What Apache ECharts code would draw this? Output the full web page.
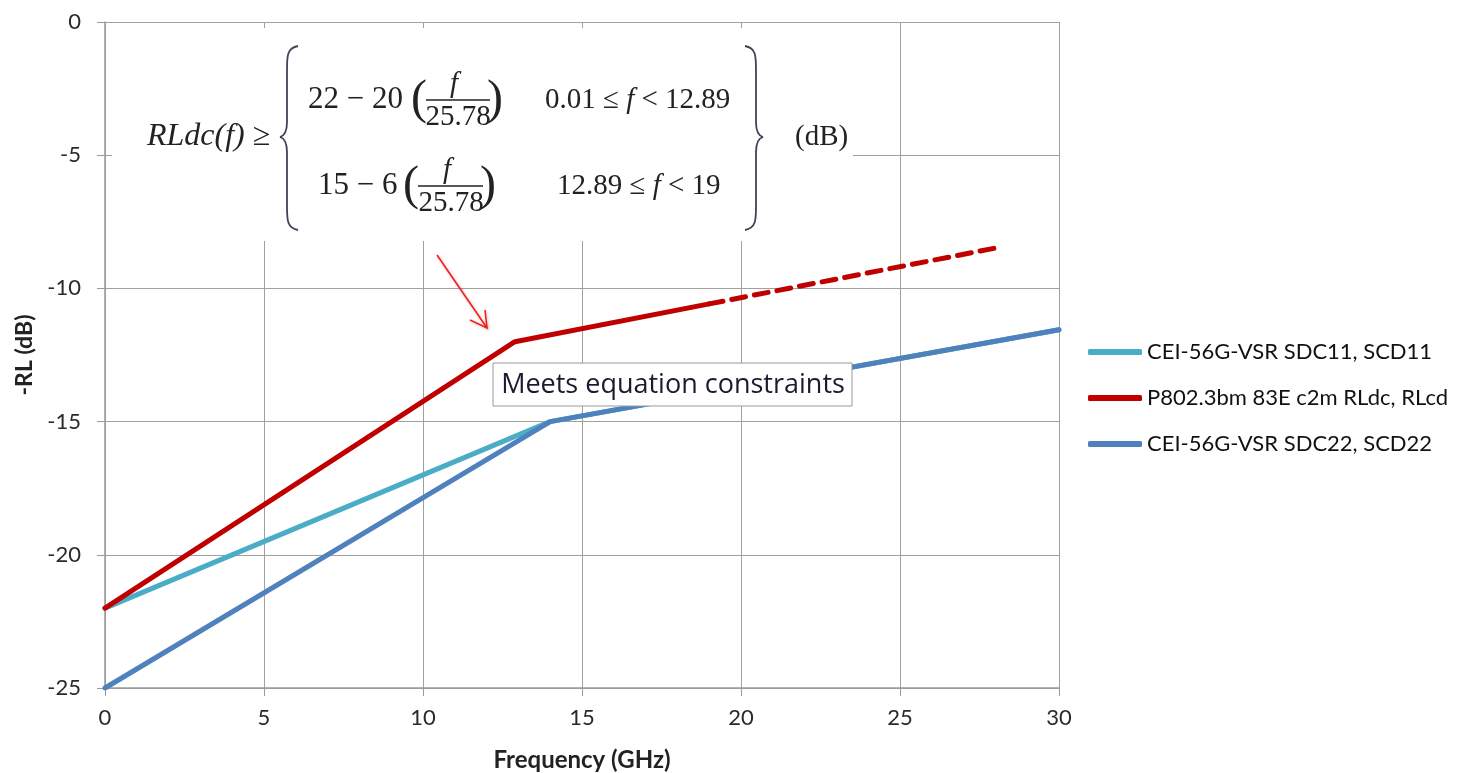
<!DOCTYPE html>
<html>
<head>
<meta charset="utf-8">
<script src="https://cdn.jsdelivr.net/npm/echarts@6/dist/echarts.min.js"></script>
<style>
html,body{margin:0;padding:0;background:#fff;overflow:hidden;width:1466px;height:773px;}
#chart{width:1466px;height:773px;position:absolute;left:0;top:0;}
</style>
</head>
<body>
<div id="chart"></div>
<script>
// ---- data ----
var xTicks = [0, 5, 10, 15, 20, 25, 30];
var yTicks = [-25, -20, -15, -10, -5, 0];
var seriesNames = ['CEI-56G-VSR SDC11, SCD11', 'P802.3bm 83E c2m RLdc, RLcd', 'CEI-56G-VSR SDC22, SCD22'];
var sdc11Freq = [0, 14, 30];
var sdc11Val = [-22, -15, -11.55];
var rldcFreq = [0, 12.89, 19];
var rldcVal = [-22, -12, -10.58];
var rldcExtFreq = [19, 28.2];
var rldcExtVal = [-10.58, -8.44];
var sdc22Freq = [0, 14, 30];
var sdc22Val = [-25, -15, -11.55];
var annotationText = 'Meets equation constraints';

function pairs(xs, ys) { return xs.map(function (x, i) { return [x, ys[i]]; }); }

var colors = ['#4BACC6', '#C00000', '#4F81BD'];
var chart = echarts.init(document.getElementById('chart'), null, {renderer: 'canvas', width: 1466, height: 773});

var serifFam = '"Liberation Serif", "DejaVu Serif", serif';
var fcol = '#222';
var braceStyle = {fill: 'none', stroke: '#4a3d5c', lineWidth: 1.8};
var fs = 29;
var richIt = {i: {fontFamily: serifFam, fontStyle: 'italic', fontSize: fs, fill: fcol}};

function brace(xHook, xStem, xMid, yTop, yMid, yBot) {
  var els = [];
  function bz(p1, c1, c2, p2) {
    els.push({type: 'bezierCurve', z: 51, shape: {x1: p1[0], y1: p1[1], cpx1: c1[0], cpy1: c1[1], cpx2: c2[0], cpy2: c2[1], x2: p2[0], y2: p2[1]}, style: braceStyle});
  }
  function ln(p1, p2) {
    els.push({type: 'line', z: 51, shape: {x1: p1[0], y1: p1[1], x2: p2[0], y2: p2[1]}, style: braceStyle});
  }
  bz([xHook, yTop], [xStem, yTop + 2], [xStem, yTop + 10], [xStem, yTop + 24]);
  ln([xStem, yTop + 24], [xStem, yMid - 15]);
  bz([xStem, yMid - 15], [xStem, yMid - 5], [(xStem + xMid) / 2, yMid - 1], [xMid, yMid]);
  bz([xMid, yMid], [(xStem + xMid) / 2, yMid + 1], [xStem, yMid + 5], [xStem, yMid + 15]);
  ln([xStem, yMid + 15], [xStem, yBot - 24]);
  bz([xStem, yBot - 24], [xStem, yBot - 10], [xStem, yBot - 2], [xHook, yBot]);
  return els;
}

function txt(x, y, s, opts) {
  opts = opts || {};
  return {type: 'text', x: x, y: y, z: 51, style: {
    text: s, fontFamily: serifFam, fontSize: opts.size || fs, fontStyle: opts.italic ? 'italic' : 'normal',
    fill: fcol, textAlign: opts.align || 'left', textVerticalAlign: 'middle', rich: richIt}};
}

var graphics = [
  {type: 'rect', shape: {x: 112, y: 28, width: 741, height: 213}, style: {fill: '#fff'}, z: 50},
  txt(147, 137, 'RLdc(f) ≥', {italic: true, size: 32}),
  // row 1
  txt(308, 100, '22 − 20', {size: 31}),
  txt(427, 100, '(', {size: 48, align: 'right'}),
  txt(454, 84, 'f', {italic: true, align: 'center'}),
  {type: 'line', z: 51, shape: {x1: 426, y1: 100, x2: 490, y2: 100}, style: {stroke: fcol, lineWidth: 1.6}},
  txt(458, 117, '25.78', {align: 'center'}),
  txt(487, 100, ')', {size: 48}),
  txt(545, 100, '0.01 ≤ {i|f} < 12.89'),
  // row 2
  txt(318, 186, '15 − 6', {size: 31}),
  txt(419, 186, '(', {size: 48, align: 'right'}),
  txt(447, 170, 'f', {italic: true, align: 'center'}),
  {type: 'line', z: 51, shape: {x1: 418, y1: 186, x2: 483, y2: 186}, style: {stroke: fcol, lineWidth: 1.6}},
  txt(451, 203, '25.78', {align: 'center'}),
  txt(480, 186, ')', {size: 48}),
  txt(557, 186, '12.89 ≤ {i|f} < 19'),
  txt(795, 137, '(dB)'),
  // arrow
  {type: 'line', z: 60, shape: {x1: 437, y1: 255, x2: 487, y2: 328}, style: {stroke: '#ff1a1a', lineWidth: 1.6, shadowBlur: 3, shadowColor: 'rgba(0,0,0,0.25)', shadowOffsetX: 1, shadowOffsetY: 1}},
  {type: 'polyline', z: 60, shape: {points: [[470, 320], [487, 328], [485, 310]]}, style: {stroke: '#ff1a1a', lineWidth: 1.6, fill: 'none', shadowBlur: 3, shadowColor: 'rgba(0,0,0,0.25)', shadowOffsetX: 1, shadowOffsetY: 1}},
  // annotation box
  {type: 'rect', z: 60, shape: {x: 493, y: 363, width: 359, height: 43}, style: {fill: '#fff', stroke: '#9a9a9a', lineWidth: 1}},
  {type: 'text', z: 61, x: 673, y: 385, style: {text: annotationText, fontFamily: '"Open Sans", Lato, sans-serif', fontSize: 27, fill: '#1b1b30', textAlign: 'center', textVerticalAlign: 'middle'}}
].concat(brace(298, 287, 280, 46, 137, 230)).concat(brace(745, 756, 763, 46, 137, 230));

var option = {
  animation: false,
  backgroundColor: '#fff',
  grid: {left: 105, right: 407, top: 22, bottom: 85, containLabel: false, outerBoundsMode: 'none'},
  legend: {
    orient: 'vertical',
    left: 1083,
    top: 334,
    itemWidth: 54,
    itemHeight: 6,
    itemGap: 20,
    icon: 'roundRect',
    data: seriesNames,
    textStyle: {fontFamily: 'Lato', fontSize: 22, color: '#111', lineHeight: 26}
  },
  xAxis: {
    type: 'value', min: xTicks[0], max: xTicks[xTicks.length - 1], interval: 5,
    name: 'Frequency (GHz)', nameLocation: 'middle', nameGap: 60,
    nameTextStyle: {fontFamily: 'Lato', fontWeight: 'bold', fontSize: 24, color: '#222'},
    axisLine: {show: true, onZero: false, lineStyle: {color: '#9a9a9a', width: 1.5}},
    axisTick: {show: true, length: 8, lineStyle: {color: '#9a9a9a'}},
    axisLabel: {fontFamily: 'Lato', fontSize: 22, color: '#2a2a2a', margin: 19},
    splitLine: {show: true, lineStyle: {color: '#a0a0a0', width: 1}}
  },
  yAxis: {
    type: 'value', min: yTicks[0], max: yTicks[yTicks.length - 1], interval: 5,
    name: '-RL (dB)', nameLocation: 'middle', nameGap: 64, nameRotate: 90,
    nameTextStyle: {fontFamily: 'Lato', fontWeight: 'bold', fontSize: 23, color: '#222'},
    axisLine: {show: true, onZero: false, lineStyle: {color: '#9a9a9a', width: 1.5}},
    axisTick: {show: true, length: 8, lineStyle: {color: '#9a9a9a'}},
    axisLabel: {fontFamily: 'Lato', fontSize: 22, color: '#2a2a2a', margin: 24},
    splitLine: {show: true, lineStyle: {color: '#a0a0a0', width: 1}}
  },
  series: [
    {name: seriesNames[0], type: 'line', data: pairs(sdc11Freq, sdc11Val), showSymbol: false, z: 2,
     lineStyle: {color: colors[0], width: 5, cap: 'round', join: 'round'}, itemStyle: {color: colors[0]}},
    {name: seriesNames[1], type: 'line', data: pairs(rldcFreq, rldcVal), showSymbol: false, z: 3,
     lineStyle: {color: colors[1], width: 5, cap: 'round', join: 'round'}, itemStyle: {color: colors[1]}},
    {name: 'ext', type: 'line', data: pairs(rldcExtFreq, rldcExtVal), showSymbol: false, z: 3,
     lineStyle: {color: colors[1], width: 5, type: [14, 9], cap: 'round'}, itemStyle: {color: colors[1]}},
    {name: seriesNames[2], type: 'line', data: pairs(sdc22Freq, sdc22Val), showSymbol: false, z: 4,
     lineStyle: {color: colors[2], width: 5, cap: 'round', join: 'round'}, itemStyle: {color: colors[2]}}
  ],
  graphic: graphics
};
chart.setOption(option);
</script>
</body>
</html>
